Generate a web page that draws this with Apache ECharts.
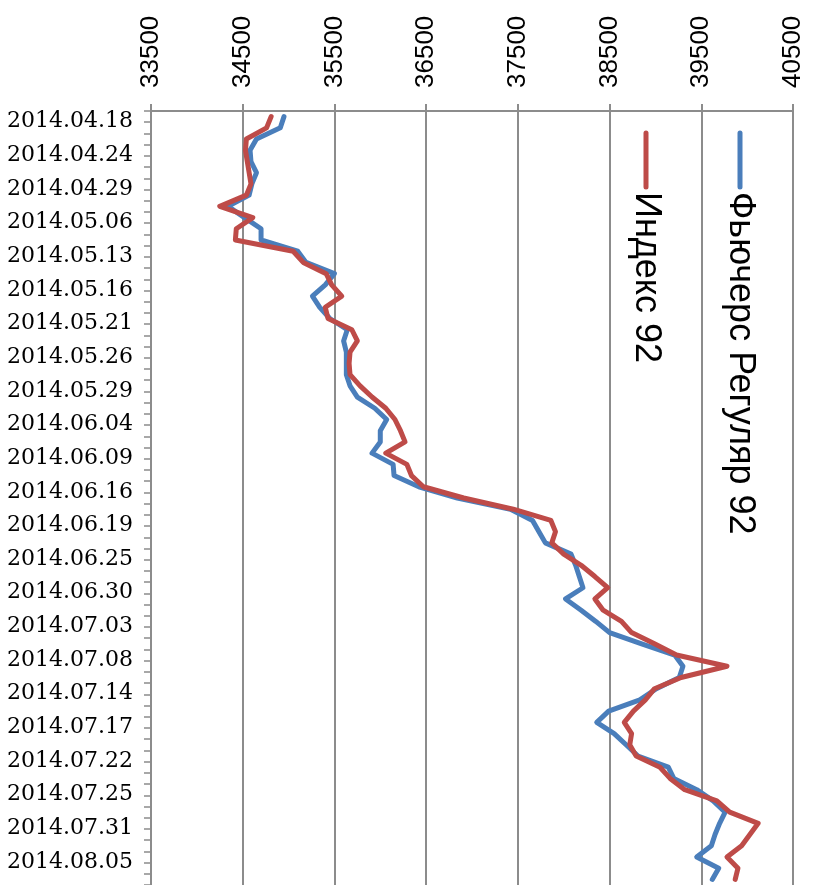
<!DOCTYPE html>
<html>
<head>
<meta charset="utf-8">
<script src="https://cdn.jsdelivr.net/npm/echarts@6/dist/echarts.min.js"></script>
<style>
html,body{margin:0;padding:0;background:#fff;}
#chart{width:813px;height:885px;}
</style>
</head>
<body>
<div id="chart"></div>
<script>
var dates = ['2014.04.18','2014.04.21','2014.04.22','2014.04.24','2014.04.25','2014.04.28','2014.04.29','2014.04.30','2014.05.05',
'2014.05.06','2014.05.07','2014.05.12','2014.05.13','2014.05.14','2014.05.15','2014.05.16','2014.05.19','2014.05.20',
'2014.05.21','2014.05.22','2014.05.23','2014.05.26','2014.05.27','2014.05.28','2014.05.29','2014.05.30','2014.06.03',
'2014.06.04','2014.06.05','2014.06.06','2014.06.09','2014.06.10','2014.06.11','2014.06.16','2014.06.17','2014.06.18',
'2014.06.19','2014.06.20','2014.06.23','2014.06.25','2014.06.26','2014.06.27','2014.06.30','2014.07.01','2014.07.02',
'2014.07.03','2014.07.04','2014.07.07','2014.07.08','2014.07.09','2014.07.10','2014.07.14','2014.07.15','2014.07.16',
'2014.07.17','2014.07.18','2014.07.21','2014.07.22','2014.07.23','2014.07.24','2014.07.25','2014.07.28','2014.07.29',
'2014.07.31','2014.08.01','2014.08.04','2014.08.05','2014.08.06','2014.08.07'];

var seriesNames = ['Фьючерс Регуляр 92', 'Индекс 92'];

var futures92 = [34950,34910,34650,34580,34590,34650,34600,34570,34340,34520,34700,34700,35100,35190,35500,35400,35260,35340,
35450,35640,35600,35630,35630,35630,35670,35750,35940,36070,36000,36000,35910,36140,36150,36420,36840,37420,37660,37730,
37800,38080,38130,38170,38210,38020,38190,38350,38500,38850,39210,39300,39260,39010,38830,38490,38360,38550,38680,38810,
39140,39200,39450,39630,39760,39700,39650,39610,39450,39690,39620];

var index92 = [34810,34760,34540,34530,34550,34570,34590,34540,34250,34610,34430,34420,35050,35160,35410,35470,35580,35400,
35430,35690,35750,35670,35660,35670,35780,35910,36060,36160,36220,36270,36060,36290,36340,36470,36910,37450,37860,37910,
37870,38000,38190,38340,38480,38340,38430,38630,38740,38990,39230,39780,39280,38990,38890,38760,38660,38740,38720,38790,
39050,39160,39320,39670,39810,40120,40030,39940,39780,39900,39870];

var valueMin = 33500, valueMax = 40500, valueStep = 1000;

var colors = ['#4A7EBB', '#BE4B48'];
var gridColor = '#8c8c8c';

var chart = echarts.init(document.getElementById('chart'), null, {renderer: 'canvas'});

var legendX = [740, 646];
var graphics = [];
for (var k = 0; k < 2; k++) {
  graphics.push({
    type: 'line', z: 100,
    shape: {x1: legendX[k], y1: 133, x2: legendX[k], y2: 187},
    style: {stroke: colors[k], lineWidth: 5, lineCap: 'round'}
  });
  graphics.push({
    type: 'text', z: 100,
    x: legendX[k], y: 192,
    rotation: -Math.PI / 2,
    style: {
      text: seriesNames[k],
      fill: '#000',
      font: '36px "Liberation Sans", Arial, sans-serif',
      align: 'left', verticalAlign: 'middle',
      textAlign: 'left', textVerticalAlign: 'middle'
    }
  });
}

chart.setOption({
  animation: false,
  backgroundColor: '#fff',
  grid: {left: 151, top: 111, width: 642, height: 778, containLabel: false},
  xAxis: {
    type: 'value', position: 'top',
    min: valueMin, max: valueMax, interval: valueStep,
    axisLine: {show: true, lineStyle: {color: gridColor, width: 2}},
    axisTick: {show: true, length: 7, lineStyle: {color: gridColor, width: 2}},
    splitLine: {show: true, lineStyle: {color: gridColor, width: 2}},
    axisLabel: {rotate: -90, margin: 23, fontSize: 26, color: '#000',
      fontFamily: '"Liberation Sans", Arial, sans-serif',
      formatter: function (v) { return String(v); }}
  },
  yAxis: {
    type: 'category', inverse: true, data: dates, boundaryGap: true,
    axisLine: {show: true, lineStyle: {color: gridColor, width: 2}},
    axisTick: {show: true, interval: 0, length: 7, lineStyle: {color: gridColor, width: 1.5}},
    splitLine: {show: false},
    axisLabel: {interval: 2, margin: 18,
      formatter: function (v) { return '{d|' + v + '}'; },
      rich: {d: {fontSize: 22, color: '#000', fontFamily: '"DejaVu Serif", serif', padding: [10, 0, 0, 0]}}}
  },
  series: [
    {name: seriesNames[0], type: 'line', data: futures92, showSymbol: false, symbol: 'none',
     lineStyle: {color: colors[0], width: 5, join: 'round', cap: 'round'}, itemStyle: {color: colors[0]}},
    {name: seriesNames[1], type: 'line', data: index92, showSymbol: false, symbol: 'none',
     lineStyle: {color: colors[1], width: 5, join: 'round', cap: 'round'}, itemStyle: {color: colors[1]}}
  ],
  graphic: graphics
});
</script>
</body>
</html>
